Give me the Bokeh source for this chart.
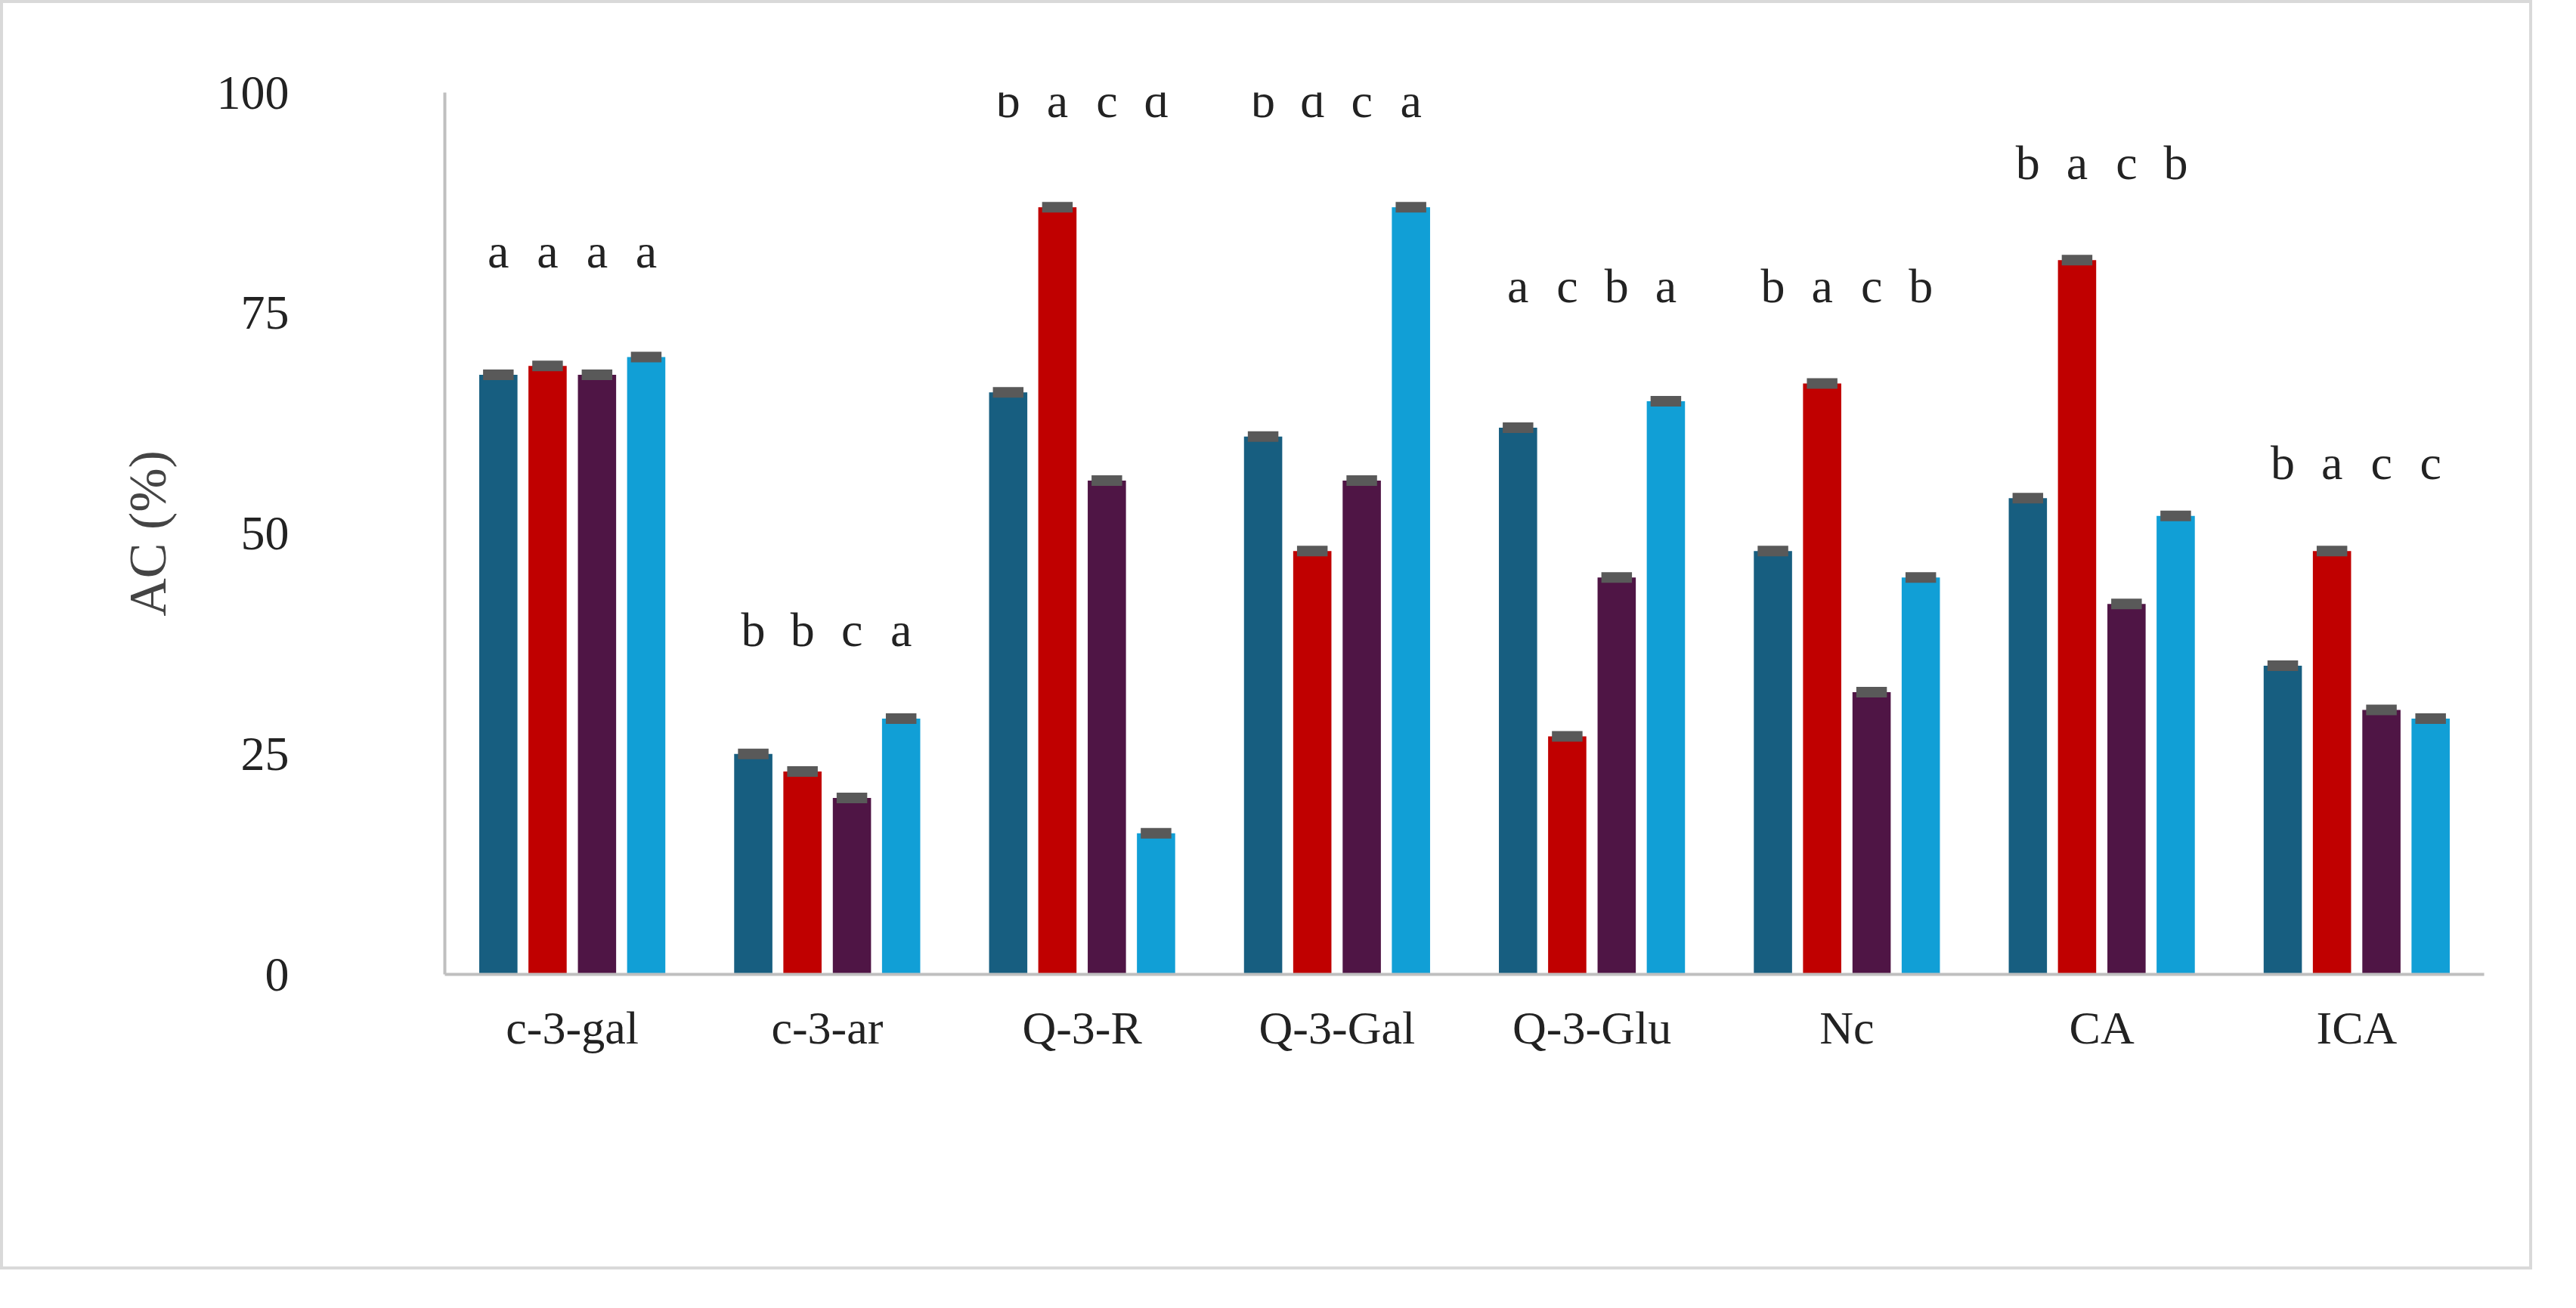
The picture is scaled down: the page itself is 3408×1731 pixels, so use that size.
from bokeh.plotting import figure
from bokeh.models import ColumnDataSource, Legend, LegendItem, FactorRange
from bokeh.transform import dodge
from bokeh.core.properties import value
from bokeh.embed import file_html
from bokeh.resources import INLINE

categories = ["c-3-gal", "c-3-ar", "Q-3-R", "Q-3-Gal", "Q-3-Glu", "Nc", "CA", "ICA"]
series = ["AP/CPE", "RP/CPE", "PP/CPE", "Pum/CPE"]
ap = [68, 25, 66, 61, 62, 48, 54, 35]
rp = [69, 23, 87, 48, 27, 67, 81, 48]
pp = [68, 20, 56, 56, 45, 32, 42, 30]
pum = [70, 29, 16, 87, 65, 45, 52, 29]
err = [0.6, 0.6, 0.6, 0.6, 0.6, 0.6, 0.6, 0.6]
letters = [["a", "a", "a", "a"], ["b", "b", "c", "a"], ["b", "a", "c", "d"], ["b", "d", "c", "a"],
           ["a", "c", "b", "a"], ["b", "a", "c", "b"], ["b", "a", "c", "b"], ["b", "a", "c", "c"]]
letter_y = [79, 36, 96, 96, 75, 75, 89, 55]
colors = ["#175e80", "#c00000", "#4f1545", "#119fd6"]

FONT = "Liberation Serif"
W, H = 3350, 1680
p = figure(x_range=FactorRange(*categories, range_padding=0.0), y_range=(0, 100),
           width=W, height=H, output_backend="svg", toolbar_location=None,
           min_border_left=584, min_border_right=68, min_border_top=118, min_border_bottom=395)
p.x_range.range_padding = 0
p.styles = {"border": "4px solid #d9d9d9"}
p.outline_line_color = None
p.xgrid.grid_line_color = None
p.ygrid.grid_line_color = None

offsets = [-0.29, -0.097, 0.097, 0.29]
vals = [ap, rp, pp, pum]
renderers = []
for i, (name, v) in enumerate(zip(series, vals)):
    src = ColumnDataSource(dict(cat=categories, top=v, cap=[t + e for t, e in zip(v, err)],
                                low=[t - e for t, e in zip(v, err)],
                                lab=[l[i] for l in letters], ly=letter_y))
    r = p.vbar(x=dodge("cat", offsets[i], range=p.x_range), top="top", width=0.15,
               source=src, fill_color=colors[i], line_color=None)
    renderers.append(r)
    p.vbar(x=dodge("cat", offsets[i], range=p.x_range), top="cap", bottom="low", width=0.12,
           source=src, fill_color="#595959", line_color=None)
    p.text(x=dodge("cat", offsets[i], range=p.x_range), y="ly", text="lab", source=src,
           text_font=value(FONT), text_font_size="64px", text_align="center",
           text_baseline="bottom", text_color="#222222")

p.yaxis.ticker = [0, 25, 50, 75, 100]
p.yaxis.axis_label = "AC (%)"
p.yaxis.axis_label_text_font = FONT
p.yaxis.axis_label_text_font_size = "70px"
p.yaxis.axis_label_text_font_style = "normal"
p.yaxis.axis_label_standoff = 50
for ax in (p.xaxis, p.yaxis):
    ax.major_label_text_font = FONT
    ax.major_label_text_color = "#222222"
    ax.major_tick_line_color = None
    ax.minor_tick_line_color = None
    ax.axis_line_color = "#bfbfbf"
    ax.axis_line_width = 4
p.xaxis.major_label_text_font_size = "62px"
p.yaxis.major_label_text_font_size = "64px"
p.yaxis.major_label_standoff = 200
p.xaxis.major_label_standoff = 30

legend = Legend(items=[LegendItem(label=s, renderers=[r]) for s, r in zip(series, renderers)],
                orientation="horizontal", location=(294, -256), label_text_font=FONT,
                label_text_font_size="70px", glyph_width=44, glyph_height=44,
                spacing=160, border_line_color=None, background_fill_alpha=0,
                label_standoff=16, margin=0, padding=10)
p.add_layout(legend, "center")

open("out.html", "w").write(file_html(p, INLINE))
